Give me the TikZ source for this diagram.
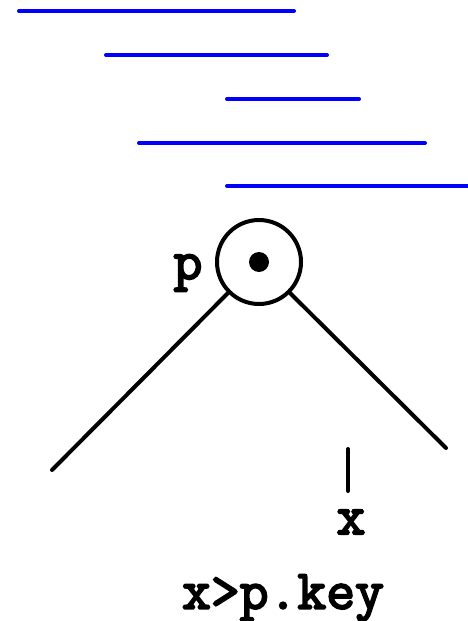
\documentclass[tikz,border=0pt]{standalone}
\usepackage{fontspec}
\setmonofont{Latin Modern Mono}[AutoFakeBold=3.5]
\begin{document}
\begin{tikzpicture}[x=1pt,y=-1pt,
  seg/.style={blue,line width=4pt,line cap=round},
  edge/.style={line width=4pt,line cap=round},
  lab/.style={font=\ttfamily\bfseries\fontsize{56}{60}\selectfont,inner sep=0pt}]
\useasboundingbox (0,0) rectangle (468,621);
% intervals
\draw[seg] (19,11)--(294,11);
\draw[seg] (106,55)--(327,55);
\draw[seg] (227,99)--(359,99);
\draw[seg] (139,143)--(425,143);
\draw[seg] (227,186)--(470,186);
% node p
\node[circle,draw,line width=4pt,minimum size=84pt,inner sep=0pt] (p) at (259,262) {};
\fill (p.center) circle (10pt);
\node[lab] (plab) at (188,273) {p};
\coordinate (ll) at (52,470);
\coordinate (rr) at (446,448);
\draw[edge] (p.225)--(ll);
\draw[edge] (p.-45)--(rr);
% query point
\coordinate (xt) at (348,449);
\coordinate (xb) at (348,491);
\draw[edge] (xt)--(xb);
\node[lab] (xlab) at (351,522) {x};
\node[lab] (cond) at (283,598) {x>p.key};
\end{tikzpicture}
\end{document}
